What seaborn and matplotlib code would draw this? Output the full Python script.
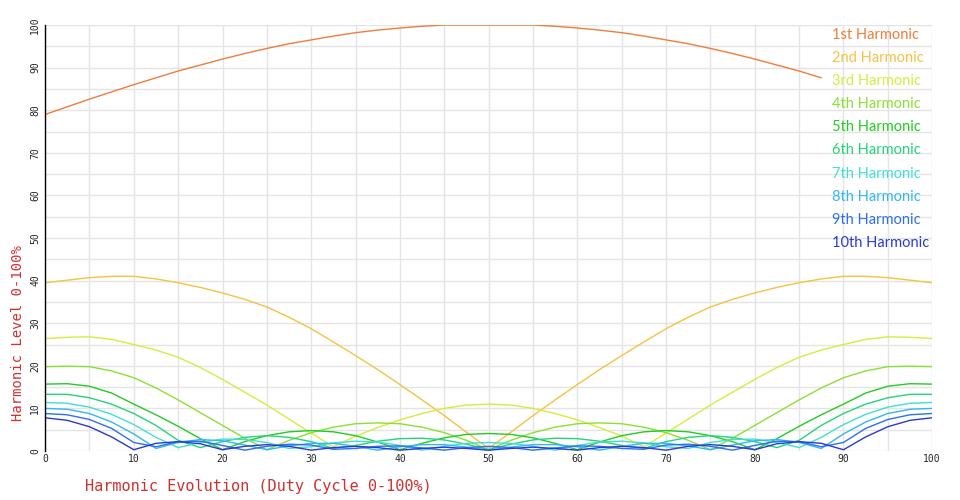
import matplotlib
matplotlib.use("Agg")
import matplotlib.pyplot as plt
import numpy as np
import pandas as pd
import seaborn as sns

# duty cycle positions (%)
duty = [0, 2.5, 5, 7.5, 10, 12.5, 15, 17.5, 20, 22.5, 25, 27.5, 30, 32.5, 35, 37.5, 40, 42.5, 45, 47.5,
        50, 52.5, 55, 57.5, 60, 62.5, 65, 67.5, 70, 72.5, 75, 77.5, 80, 82.5, 85, 87.5, 90, 92.5, 95, 97.5, 100]

# harmonic levels (1st harmonic stops at ~88%)
h1 = [79, 80.8, 82.6, 84.3, 86, 87.6, 89.2, 90.6, 92, 93.3, 94.5, 95.6, 96.5, 97.4, 98.2, 98.8, 99.3, 99.7, 100, 100,
      100, 100, 100, 99.7, 99.3, 98.8, 98.2, 97.4, 96.5, 95.6, 94.5, 93.3, 92, 90.6, 89.2, 87.6]
h2 = [39.5, 40.1, 40.7, 41, 41, 40.4, 39.5, 38.4, 37.1, 35.6, 33.8, 31.4, 28.7, 25.6, 22.4, 19.1, 15.6, 12, 8.3, 4.4,
      0.6, 4.4, 8.3, 12, 15.6, 19.1, 22.4, 25.6, 28.7, 31.4, 33.8, 35.6, 37.1, 38.4, 39.5, 40.4, 41, 41, 40.7, 40.1, 39.5]
h3 = [26.4, 26.7, 26.8, 26.2, 25, 23.7, 22, 19.6, 16.8, 13.8, 10.8, 7.5, 4.2, 1, 3.5, 5.5, 7.3, 8.8, 10, 10.8,
      11, 10.8, 10, 8.8, 7.3, 5.5, 3.5, 1, 4.2, 7.5, 10.8, 13.8, 16.8, 19.6, 22, 23.7, 25, 26.2, 26.8, 26.7, 26.4]
h4 = [19.8, 19.9, 19.8, 18.8, 17.2, 14.8, 12, 9, 6, 3, 0.3, 2.5, 4.3, 5.6, 6.4, 6.6, 6.4, 5.6, 4.3, 2.5,
      0.3, 2.5, 4.3, 5.6, 6.4, 6.6, 6.4, 5.6, 4.3, 2.5, 0.3, 3, 6, 9, 12, 14.8, 17.2, 18.8, 19.8, 19.9, 19.8]
h5 = [15.7, 15.8, 15.2, 13.6, 11, 8.5, 5.8, 2.9, 0.3, 2.2, 3.6, 4.5, 4.8, 4.5, 3.6, 2.1, 0.3, 1.8, 3.1, 3.9,
      4.1, 3.9, 3.1, 1.8, 0.3, 2.1, 3.6, 4.5, 4.8, 4.5, 3.6, 2.2, 0.3, 2.9, 5.8, 8.5, 11, 13.6, 15.2, 15.8, 15.7]
h6 = [13.3, 13.3, 12.5, 11, 8.8, 6, 2.5, 0.8, 2.2, 3.2, 3.6, 3.2, 2.2, 0.6, 1.3, 2.3, 2.9, 3, 2.6, 1.6,
      0.3, 1.6, 2.6, 3, 2.9, 2.3, 1.3, 0.6, 2.2, 3.2, 3.6, 3.2, 2.2, 0.8, 2.5, 6, 8.8, 11, 12.5, 13.3, 13.3]
h7 = [11.4, 11.2, 10.3, 8.6, 6.2, 3.2, 0.8, 2, 2.8, 2.7, 2, 0.6, 1, 1.9, 2.3, 2.1, 1.3, 0.2, 1.1, 1.8,
      2, 1.8, 1.1, 0.2, 1.3, 2.1, 2.3, 1.9, 1, 0.6, 2, 2.7, 2.8, 2, 0.8, 3.2, 6.2, 8.6, 10.3, 11.2, 11.4]
h8 = [10, 9.8, 8.8, 6.8, 4, 0.6, 2, 2.7, 2.4, 1.4, 0.3, 1.2, 1.8, 1.8, 1.1, 0.2, 1, 1.5, 1.5, 0.9,
      0.2, 0.9, 1.5, 1.5, 1, 0.2, 1.1, 1.8, 1.8, 1.2, 0.3, 1.4, 2.4, 2.7, 2, 0.6, 4, 6.8, 8.8, 9.8, 10]
h9 = [8.8, 8.5, 7.4, 5.3, 2, 1, 2.2, 2.3, 1.3, 0.2, 1.1, 1.6, 1.4, 0.4, 0.6, 1.1, 1.2, 0.7, 0.2, 0.8,
      1.1, 0.8, 0.2, 0.7, 1.2, 1.1, 0.6, 0.4, 1.4, 1.6, 1.1, 0.2, 1.3, 2.3, 2.2, 1, 2, 5.3, 7.4, 8.5, 8.8]
h10 = [7.8, 7.2, 5.7, 3.3, 0.3, 1.8, 2.2, 1.7, 0.3, 1.1, 1.5, 1.1, 0.2, 0.8, 1.1, 0.8, 0.2, 0.6, 0.9, 0.6,
       0.2, 0.6, 0.9, 0.6, 0.2, 0.8, 1.1, 0.8, 0.2, 1.1, 1.5, 1.1, 0.3, 1.7, 2.2, 1.8, 0.3, 3.3, 5.7, 7.2, 7.8]

labels = ["1st Harmonic", "2nd Harmonic", "3rd Harmonic", "4th Harmonic", "5th Harmonic",
          "6th Harmonic", "7th Harmonic", "8th Harmonic", "9th Harmonic", "10th Harmonic"]
colors = ["#ee7d3b", "#f5c242", "#d6ec3c", "#8ce033", "#22cc22",
          "#22d47a", "#3fe0d2", "#32b8f0", "#2f6ff0", "#2a3ad0"]

series = [h1, h2, h3, h4, h5, h6, h7, h8, h9, h10]
rows = []
for name, vals in zip(labels, series):
    for d, v in zip(duty, vals):
        rows.append({"duty": d, "level": v, "harmonic": name})
df = pd.DataFrame(rows)

sns.set_style("white")
mono = "DejaVu Sans Mono"
red = "#d03030"

fig = plt.figure(figsize=(9.6, 5.0), dpi=100)
ax = fig.add_axes([0.047, 0.098, 0.924, 0.852])

sns.lineplot(data=df, x="duty", y="level", hue="harmonic", hue_order=labels,
             palette=colors, linewidth=1.0, ax=ax)

ax.set_xlim(0, 100)
ax.set_ylim(0, 100)
ax.set_xticks(range(0, 101, 10))
ax.set_xticks(range(5, 100, 10), minor=True)
ax.set_yticks(range(0, 101, 10))
ax.set_yticks(range(5, 100, 10), minor=True)
ax.grid(which="both", color="#e4e4e4", linewidth=1.0)
ax.set_axisbelow(True)

for s in ["top", "right", "bottom"]:
    ax.spines[s].set_visible(False)
ax.spines["left"].set_color("black")
ax.spines["left"].set_linewidth(1.0)

ax.tick_params(axis="x", which="major", length=3, direction="inout", color="black",
               labelsize=7, pad=1)
ax.tick_params(axis="y", which="major", length=3, direction="inout", color="black",
               labelsize=7, pad=2)
ax.tick_params(which="minor", length=0)
for t in ax.get_xticklabels() + ax.get_yticklabels():
    t.set_fontfamily(mono)
for t in ax.get_yticklabels():
    t.set_rotation(90)
    t.set_va("center")

ax.set_xlabel("Harmonic Evolution (Duty Cycle 0-100%)", color=red, fontsize=11, fontfamily=mono)
ax.set_ylabel("Harmonic Level 0-100%", color=red, fontsize=10, fontfamily=mono)
ax.xaxis.set_label_coords(0.24, -0.066)
ax.yaxis.set_label_coords(-0.023, 0.277)

handles, lbls = ax.get_legend_handles_labels()
leg = ax.legend(handles, lbls, loc="upper left", bbox_to_anchor=(0.881, 1.006),
                frameon=False, handlelength=0, handletextpad=0, labelcolor="linecolor",
                labelspacing=0.62, borderaxespad=0,
                prop={"family": "Lato", "size": 10.5})
for h in leg.legend_handles:
    h.set_visible(False)

fig.savefig("out.png", dpi=100, facecolor="white")
